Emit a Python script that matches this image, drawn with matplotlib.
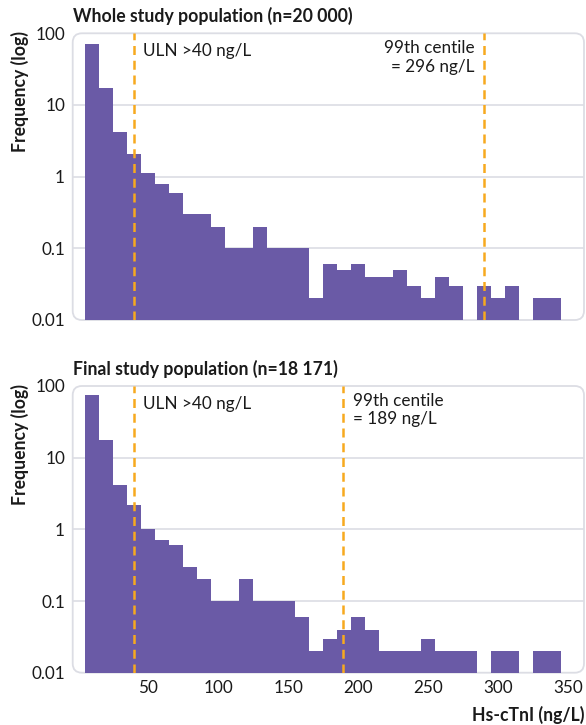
import numpy as np
import matplotlib
matplotlib.use("Agg")
import matplotlib.pyplot as plt
from matplotlib.patches import FancyBboxPatch

plt.rcParams['font.family'] = ['Lato', 'DejaVu Sans']

# Bin centres (ng/L), bin width 10
bin_centers = [10, 20, 30, 40, 50, 60, 70, 80, 90, 100, 110, 120, 130, 140, 150, 160, 170,
               180, 190, 200, 210, 220, 230, 240, 250, 260, 270, 280, 290, 300, 310, 320, 330, 340]
bin_width = 10

freq_whole = [71, 17, 4.2, 2.07, 1.13, 0.8, 0.6, 0.3, 0.3, 0.2, 0.1, 0.1, 0.2, 0.1, 0.1, 0.1, 0.02,
              0.06, 0.05, 0.06, 0.04, 0.04, 0.05, 0.03, 0.02, 0.04, 0.03, 0, 0.03, 0.02, 0.03, 0, 0.02, 0.02]
freq_final = [75, 17.7, 4.2, 2.19, 1.0, 0.7, 0.6, 0.3, 0.2, 0.1, 0.1, 0.2, 0.1, 0.1, 0.1, 0.06, 0.02,
              0.03, 0.04, 0.06, 0.04, 0.02, 0.02, 0.02, 0.03, 0.02, 0.02, 0.02, 0, 0.02, 0.02, 0, 0.02, 0.02]

titles = ["Whole study population (n=20 000)", "Final study population (n=18 171)"]
uln = 40
centile_pos = [290, 189]
centile_labels = ["99th centile\n= 296 ng/L", "99th centile\n= 189 ng/L"]
yticks = [0.01, 0.1, 1, 10, 100]
ytick_labels = ["0.01", "0.1", "1", "10", "100"]
xticks = [50, 100, 150, 200, 250, 300, 350]

W, H = 586, 725
fig = plt.figure(figsize=(W / 100, H / 100), dpi=100)

bar_color = '#6a5aa6'
line_color = '#f7a91e'
grid_color = '#dcdde4'
text_color = '#1a1a1a'
fs = 12.3
fs_bold = 12.7

left_px, right_px = 72.7, 584
panels = [(33.3, 320.0), (386.0, 672.7)]
xlim = (50 - (148.3 - left_px) / 1.4, 50 + (right_px - 148.3) / 1.4)

data = [freq_whole, freq_final]
for i, (top_px, bot_px) in enumerate(panels):
    ax = fig.add_axes([left_px / W, 1 - bot_px / H, (right_px - left_px) / W, (bot_px - top_px) / H])
    ax.set_yscale('log')
    ax.set_ylim(0.01, 100)
    ax.set_xlim(*xlim)
    for s in ax.spines.values():
        s.set_visible(False)
    ax.patch.set_visible(False)
    # rounded frame
    aspect = (right_px - left_px) / (bot_px - top_px)
    frame = FancyBboxPatch((0, 0), 1, 1, boxstyle="round,pad=0,rounding_size=0.018",
                           mutation_aspect=aspect, transform=ax.transAxes,
                           facecolor='none', edgecolor=grid_color, linewidth=1.3,
                           clip_on=False, zorder=0.5)
    ax.add_patch(frame)
    for yv in [0.1, 1, 10]:
        ax.axhline(yv, color=grid_color, linewidth=1.2, zorder=1)
    ax.bar(bin_centers, data[i], width=bin_width, color=bar_color, linewidth=0, zorder=2)
    ax.axvline(uln, color=line_color, linewidth=1.8, dashes=(3.6, 2.3), zorder=3)
    ax.axvline(centile_pos[i], color=line_color, linewidth=1.8, dashes=(3.6, 2.3), zorder=3)
    ax.set_yticks(yticks)
    ax.set_yticklabels(ytick_labels)
    ax.minorticks_off()
    ax.tick_params(axis='both', length=0, labelsize=fs, colors=text_color, pad=5)
    ax.tick_params(axis='y', pad=5.5)
    ax.text(46, 56, "ULN >40 ng/L", fontsize=fs, color=text_color, va='center', ha='left')
    if i == 0:
        ax.set_xticks([])
        ax.text(centile_pos[i] - 7, 46, centile_labels[i], fontsize=fs, color=text_color,
                va='center', ha='right', multialignment='right', linespacing=1.2)
    else:
        ax.set_xticks(xticks)
        ax.text(centile_pos[i] + 7, 46, centile_labels[i], fontsize=fs, color=text_color,
                va='center', ha='left', linespacing=1.2)
    title_y = top_px - 17
    fig.text(left_px / W, 1 - title_y / H, titles[i], fontsize=fs_bold, fontweight='bold',
             color=text_color, ha='left', va='center')
    fig.text(20 / W, 1 - (top_px - 2) / H, "Frequency (log)", fontsize=fs_bold, fontweight='bold',
             rotation=90, color=text_color, ha='center', va='top')

fig.text(584 / W, 1 - 715 / H, "Hs-cTnI (ng/L)", fontsize=fs_bold, fontweight='bold',
         color=text_color, ha='right', va='center')

fig.savefig("out.png", dpi=100)
